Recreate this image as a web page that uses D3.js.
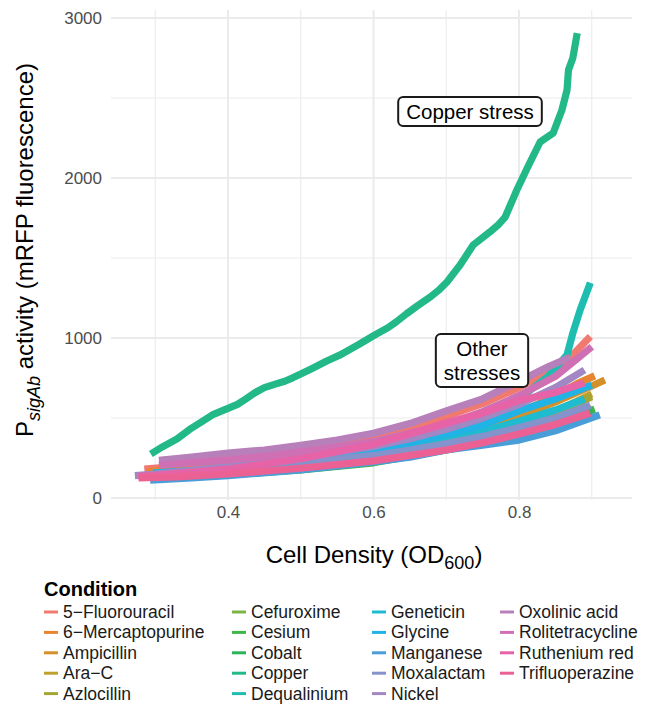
<!DOCTYPE html>
<html>
<head>
<meta charset="utf-8">
<script src="https://cdn.jsdelivr.net/npm/d3@7"></script>
<style>
  body { margin: 0; background: #fff; }
  text { font-family: "Liberation Sans", Arial, sans-serif; }
</style>
</head>
<body>
<svg id="chart" width="649" height="706"></svg>
<script>
const svg = d3.select('#chart');

// Condition names, in legend order
const conditions = ['5−Fluorouracil', '6−Mercaptopurine', 'Ampicillin', 'Ara−C', 'Azlocillin',
    'Cefuroxime', 'Cesium', 'Cobalt', 'Copper', 'Dequalinium',
    'Geneticin', 'Glycine', 'Manganese', 'Moxalactam', 'Nickel',
    'Oxolinic acid', 'Rolitetracycline', 'Ruthenium red', 'Trifluoperazine'];

const colors = ['#f07a70', '#e8852e', '#d4902a', '#bfa030', '#a3a534',
    '#7db443', '#3fb54a', '#2bb45a', '#22b888', '#1fbdb0',
    '#1fbbcf', '#21b2e6', '#4a9ed8', '#8493cc', '#a187c4',
    '#b880ba', '#cf70b4', '#e763a8', '#ec6193'];

// [OD600, mRFP fluorescence]
const fluorouracil = [[0.285, 180], [0.33, 198], [0.4, 232], [0.45, 262], [0.5, 300], [0.55, 335], [0.6, 375], [0.65, 440], [0.7, 510], [0.75, 590], [0.8, 690], [0.85, 810], [0.875, 900], [0.898, 1010]];
const mercaptopurine = [[0.29, 165], [0.35, 182], [0.4, 205], [0.5, 255], [0.55, 280], [0.6, 312], [0.65, 365], [0.7, 425], [0.75, 470], [0.8, 530], [0.85, 640], [0.88, 715], [0.904, 763]];
const ampicillin = [[0.29, 150], [0.35, 166], [0.4, 188], [0.5, 240], [0.6, 300], [0.65, 345], [0.7, 395], [0.75, 450], [0.8, 510], [0.85, 600], [0.9, 700], [0.918, 738]];
const araC = [[0.3, 145], [0.4, 172], [0.5, 212], [0.6, 262], [0.65, 300], [0.7, 350], [0.75, 410], [0.8, 470], [0.85, 540], [0.9, 650]];
const azlocillin = [[0.3, 140], [0.4, 165], [0.5, 202], [0.6, 250], [0.65, 290], [0.7, 340], [0.75, 395], [0.8, 460], [0.85, 530], [0.9, 633]];
const cefuroxime = [[0.3, 130], [0.4, 150], [0.5, 182], [0.6, 230], [0.65, 262], [0.7, 310], [0.75, 350], [0.8, 400], [0.85, 470], [0.9, 560]];
const cesium = [[0.3, 125], [0.4, 145], [0.5, 176], [0.6, 220], [0.7, 300], [0.75, 345], [0.8, 390], [0.85, 460], [0.904, 556]];
const cobalt = [[0.3, 128], [0.4, 148], [0.5, 178], [0.6, 225], [0.7, 305], [0.75, 350], [0.8, 395], [0.85, 460], [0.9, 545]];
const copper = [[0.294, 275], [0.31, 320], [0.33, 370], [0.347, 428], [0.365, 480], [0.38, 523], [0.4, 560], [0.413, 585],
    [0.425, 620], [0.437, 658], [0.45, 690], [0.465, 712], [0.478, 730], [0.489, 751], [0.5, 775], [0.517, 813],
    [0.535, 855], [0.555, 896], [0.58, 960], [0.602, 1020], [0.62, 1065], [0.631, 1100], [0.645, 1150], [0.66, 1200],
    [0.678, 1256], [0.69, 1300], [0.701, 1350], [0.719, 1456], [0.737, 1581], [0.76, 1663], [0.772, 1710], [0.781, 1756],
    [0.797, 1925], [0.812, 2069], [0.829, 2225], [0.847, 2281], [0.859, 2425], [0.866, 2550], [0.868, 2675], [0.874, 2750], [0.88, 2906]];
const dequalinium = [[0.3, 140], [0.4, 172], [0.5, 218], [0.6, 290], [0.7, 420], [0.75, 500], [0.8, 620], [0.84, 760], [0.866, 894], [0.874, 1031], [0.884, 1175], [0.898, 1346]];
const geneticin = [[0.3, 150], [0.4, 180], [0.5, 222], [0.6, 272], [0.7, 360], [0.75, 415], [0.8, 480], [0.85, 550], [0.89, 620]];
const glycine = [[0.297, 158], [0.35, 172], [0.4, 192], [0.5, 237], [0.55, 262], [0.6, 292], [0.65, 345], [0.7, 400], [0.75, 455], [0.8, 545], [0.85, 620], [0.9, 706]];
const manganese = [[0.293, 112], [0.35, 125], [0.4, 140], [0.5, 175], [0.6, 225], [0.65, 255], [0.7, 300], [0.75, 330], [0.8, 362], [0.85, 420], [0.911, 519]];
const moxalactam = [[0.323, 156], [0.4, 176], [0.5, 216], [0.6, 266], [0.65, 300], [0.7, 340], [0.75, 385], [0.8, 440], [0.85, 500], [0.898, 581]];
const nickel = [[0.272, 140], [0.3, 150], [0.4, 196], [0.5, 252], [0.6, 322], [0.65, 370], [0.7, 430], [0.75, 500], [0.8, 585], [0.85, 690], [0.89, 800]];
const oxolinic = [[0.305, 235], [0.35, 255], [0.4, 280], [0.45, 300], [0.5, 330], [0.55, 362], [0.6, 405], [0.65, 465], [0.7, 545], [0.75, 620], [0.8, 730], [0.84, 820], [0.87, 880]];
const rolitetracycline = [[0.305, 205], [0.4, 238], [0.47, 270], [0.55, 318], [0.6, 352], [0.7, 460], [0.75, 540], [0.8, 640], [0.85, 760], [0.88, 870], [0.9, 945]];
const ruthenium = [[0.277, 135], [0.3, 142], [0.4, 180], [0.5, 245], [0.6, 335], [0.65, 400], [0.7, 470], [0.75, 530], [0.8, 610], [0.85, 660], [0.89, 720]];
const trifluoperazine = [[0.277, 125], [0.33, 132], [0.4, 150], [0.5, 186], [0.6, 232], [0.7, 300], [0.75, 345], [0.8, 400], [0.85, 460], [0.898, 531]];

const seriesValues = [fluorouracil, mercaptopurine, ampicillin, araC, azlocillin,
    cefuroxime, cesium, cobalt, copper, dequalinium,
    geneticin, glycine, manganese, moxalactam, nickel,
    oxolinic, rolitetracycline, ruthenium, trifluoperazine];

const xTicks = [0.4, 0.6, 0.8];
const xMinor = [0.3, 0.5, 0.7, 0.9];
const yTicks = [0, 1000, 2000, 3000];
const yMinor = [500, 1500, 2500];

const panel = { left: 111, right: 632, top: 10, bottom: 500 };

const x = d3.scaleLinear().domain([0.2392, 0.9553]).range([panel.left, panel.right]);
const y = d3.scaleLinear().domain([-12.5, 3050]).range([panel.bottom, panel.top]);

// Grid (theme_minimal look)
const grid = svg.append('g').attr('class', 'grid');
grid.selectAll('line.minor-x').data(xMinor).enter().append('line')
    .attr('x1', d => x(d)).attr('x2', d => x(d))
    .attr('y1', panel.top).attr('y2', panel.bottom)
    .attr('stroke', '#ebebeb').attr('stroke-width', 1.1);
grid.selectAll('line.minor-y').data(yMinor).enter().append('line')
    .attr('y1', d => y(d)).attr('y2', d => y(d))
    .attr('x1', panel.left).attr('x2', panel.right)
    .attr('stroke', '#ebebeb').attr('stroke-width', 1.1);
grid.selectAll('line.major-x').data(xTicks).enter().append('line')
    .attr('x1', d => x(d)).attr('x2', d => x(d))
    .attr('y1', panel.top).attr('y2', panel.bottom)
    .attr('stroke', '#ebebeb').attr('stroke-width', 2);
grid.selectAll('line.major-y').data(yTicks).enter().append('line')
    .attr('y1', d => y(d)).attr('y2', d => y(d))
    .attr('x1', panel.left).attr('x2', panel.right)
    .attr('stroke', '#ebebeb').attr('stroke-width', 2);

// Axes: only labels, no domain line / ticks
const xAxis = svg.append('g')
    .attr('transform', `translate(0, ${panel.bottom + 3})`)
    .call(d3.axisBottom(x).tickValues(xTicks).tickFormat(d3.format('.1f')).tickSize(0));
const yAxis = svg.append('g')
    .attr('transform', `translate(${panel.left - 6}, 0)`)
    .call(d3.axisLeft(y).tickValues(yTicks).tickFormat(d3.format('d')).tickSize(0));
[xAxis, yAxis].forEach(a => {
    a.select('.domain').remove();
    a.selectAll('text')
        .attr('fill', '#4d4d4d')
        .style('font-size', '17px')
        .style('font-family', '"Liberation Sans", Arial, sans-serif');
});

// Lines
const line = d3.line().x(d => x(d[0])).y(d => y(d[1]));
svg.append('g').attr('class', 'lines')
    .selectAll('path').data(seriesValues).enter().append('path')
    .attr('d', line)
    .attr('fill', 'none')
    .attr('stroke', (d, i) => colors[i])
    .attr('stroke-width', 7.2)
    .attr('stroke-linejoin', 'round');

// Annotation labels
function labelBox (cx, cy, lines) {
    const g = svg.append('g');
    const t = g.append('text')
        .attr('text-anchor', 'middle')
        .style('font-size', '20.5px')
        .attr('fill', '#000');
    lines.forEach((s, i) => {
        t.append('tspan').attr('x', cx).attr('y', cy + 7 + (i - (lines.length - 1) / 2) * 24).text(s);
    });
    const bb = t.node().getBBox();
    g.insert('rect', 'text')
        .attr('x', bb.x - 8).attr('y', bb.y - 3)
        .attr('width', bb.width + 16).attr('height', bb.height + 6)
        .attr('rx', 5)
        .attr('fill', '#fff').attr('stroke', '#1a1a1a').attr('stroke-width', 2);
}
labelBox(470, 112, ['Copper stress']);
labelBox(482, 361, ['Other', 'stresses']);

// Axis titles
const xTitle = svg.append('text')
    .attr('x', 374).attr('y', 563)
    .attr('text-anchor', 'middle')
    .style('font-size', '24px');
xTitle.append('tspan').text('Cell Density (OD');
xTitle.append('tspan').attr('dy', 6).style('font-size', '18px').text('600');
xTitle.append('tspan').attr('dy', -6).text(')');

const yTitle = svg.append('text')
    .attr('transform', 'translate(33, 250) rotate(-90)')
    .attr('text-anchor', 'middle')
    .style('font-size', '24px');
yTitle.append('tspan').text('P');
yTitle.append('tspan').attr('dy', 7).style('font-size', '18px').style('font-style', 'italic').text('sigAb');
yTitle.append('tspan').attr('dy', -7).text(' activity (mRFP fluorescence)');

// Legend
const legend = svg.append('g').attr('class', 'legend');
legend.append('text')
    .attr('x', 44).attr('y', 596)
    .style('font-size', '20px').style('font-weight', 'bold')
    .text('Condition');

const colX = [44, 232, 372, 500];
const items = legend.selectAll('g.item').data(conditions).enter().append('g')
    .attr('transform', (d, i) => `translate(${colX[Math.floor(i / 5)]}, ${612 + (i % 5) * 20.4})`);
items.append('line')
    .attr('x1', 0).attr('x2', 14)
    .attr('stroke', (d, i) => colors[i]).attr('stroke-width', 3);
items.append('text')
    .attr('x', 19).attr('y', 6)
    .style('font-size', '17.5px')
    .attr('fill', '#1a1a1a')
    .text(d => d);
</script>
</body>
</html>
